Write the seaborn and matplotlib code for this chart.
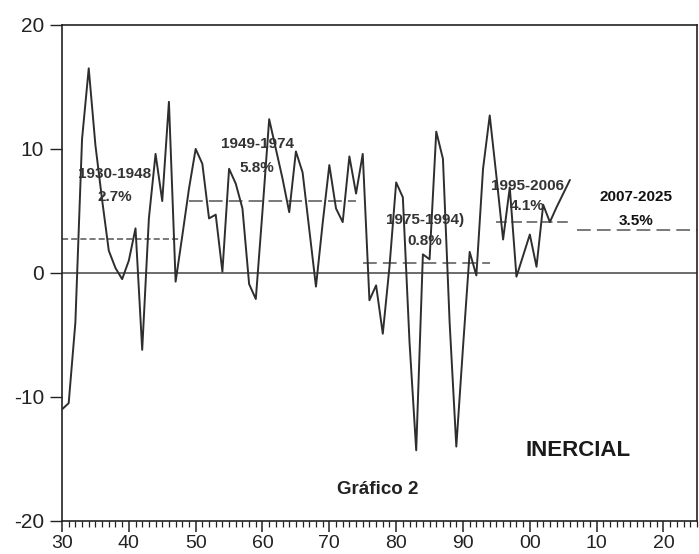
import matplotlib
matplotlib.use("Agg")
import matplotlib.pyplot as plt
import seaborn as sns
import pandas as pd
from matplotlib.ticker import MultipleLocator, FixedLocator

# serie anual
years = list(range(1930, 2007))
growth = [
    -11.0, -10.5, -4.0, 10.8, 16.5, 10.3, 5.9, 1.8, 0.4, -0.5,   # 1930-39
    1.0, 3.6, -6.2, 4.4, 9.6, 5.8, 13.8, -0.7, 3.0, 6.8,         # 1940-49
    10.0, 8.8, 4.4, 4.7, 0.1, 8.4, 7.2, 5.2, -0.9, -2.1,         # 1950-59
    5.0, 12.4, 10.0, 7.6, 4.9, 9.8, 8.1, 3.5, -1.1, 4.0,         # 1960-69
    8.7, 5.2, 4.1, 9.4, 6.4, 9.6, -2.2, -1.0, -4.9, 0.5,         # 1970-79
    7.3, 6.1, -5.6, -14.3, 1.5, 1.1, 11.4, 9.2, -4.0, -14.0,     # 1980-89
    -6.0, 1.7, -0.2, 8.4, 12.7, 7.8, 2.7, 6.9, -0.3, 1.4,        # 1990-99
    3.1, 0.5, 5.5, 4.1, 5.3, 6.4, 7.5,                           # 2000-06
]

# promedios por periodo
period_names = ["1930-1948", "1949-1974", "1975-1994)", "1995-2006", "2007-2025"]
period_start = [1930, 1949, 1975, 1995, 2007]
period_end = [1948, 1974, 1994, 2006, 2025]
period_mean = [2.7, 5.8, 0.8, 4.1, 3.5]
mean_labels = ["2.7%", "5.8%", "0.8%", "4.1%", "3.5%"]
label_x = [1937.9, 1959.2, 1984.3, 1999.6, 2015.9]
label_y = [8.0, 10.4, 4.3, 7.0, 6.1]
pct_y = [6.1, 8.5, 2.6, 5.4, 4.2]
dash_styles = [(0, (4, 2)), (0, (9, 4)), (0, (9, 4)), (0, (7, 3)), (0, (9, 4))]

xticks = [1930, 1940, 1950, 1960, 1970, 1980, 1990, 2000, 2010, 2020]
xtick_labels = ["30", "40", "50", "60", "70", "80", "90", "00", "10", "20"]
yticks = [-20, -10, 0, 10, 20]

df = pd.DataFrame({"year": years, "growth": growth})

sns.set_style("ticks")
plt.rcParams['font.family'] = ['Liberation Sans', 'DejaVu Sans']
plt.rcParams['axes.unicode_minus'] = False  # guion simple como en el original

fig = plt.figure(figsize=(6.99, 5.54), dpi=100)
ax = fig.add_axes([0.0887, 0.0596, 0.9083, 0.8954])

ax.axhline(0, color="#444444", lw=1.1, zorder=1)
sns.lineplot(data=df, x="year", y="growth", ax=ax, color="#2e2e2e", lw=1.4, zorder=3)

lab_font = ['Liberation Sans Narrow', 'Liberation Sans', 'DejaVu Sans']
for i in range(len(period_names)):
    ax.hlines(period_mean[i], period_start[i], period_end[i], colors="#555555",
              linestyles=dash_styles[i], lw=1.1, zorder=2)
    col = "#111111" if i == 4 else "#333333"
    ax.text(label_x[i], label_y[i], period_names[i], ha="center", va="center",
            fontsize=11, fontweight="bold", color=col, family=lab_font, zorder=4)
    ax.text(label_x[i], pct_y[i], mean_labels[i], ha="center", va="center",
            fontsize=11, fontweight="bold", color=col, family=lab_font, zorder=4)

ax.text(2007.2, -14.3, "INERCIAL", ha="center", va="center", fontsize=16,
        fontweight="bold", color="#1a1a1a")
ax.text(1977.3, -17.5, "Gráfico 2", ha="center", va="center", fontsize=13.5,
        fontweight="bold", color="#222222")

ax.set_xlim(1930, 2025)
ax.set_ylim(-20, 20)
ax.xaxis.set_major_locator(FixedLocator(xticks))
ax.set_xticklabels(xtick_labels)
ax.xaxis.set_minor_locator(MultipleLocator(1))
ax.set_yticks(yticks)
ax.set_xlabel("")
ax.set_ylabel("")

ax.tick_params(axis="x", which="major", direction="out", length=8, width=1.1,
               labelsize=14, pad=2, colors="#222222")
ax.tick_params(axis="x", which="minor", direction="out", length=4, width=0.9, colors="#222222")
ax.tick_params(axis="y", which="major", direction="out", length=9, width=1.0,
               labelsize=15, pad=4, colors="#222222")
for s in ax.spines.values():
    s.set_color("#222222")
    s.set_linewidth(1.2)

fig.savefig("out.png", dpi=100)
